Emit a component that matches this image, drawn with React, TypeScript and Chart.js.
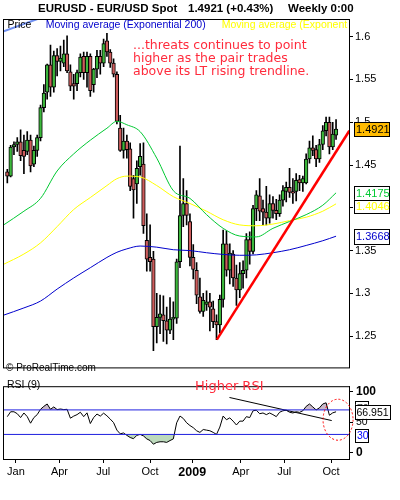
import React, { useEffect, useRef } from 'react';
import { Chart, registerables } from 'chart.js';
Chart.register(...registerables);

const SANS = '"Liberation Sans", Arial, sans-serif';
const DEJA = '"DejaVu Sans", Verdana, sans-serif';

// ---- weekly candles (index 0 = week of 21 Dec 2007) ----
const opens = [
  1.442, 1.437, 1.471, 1.474, 1.477, 1.467, 1.466, 1.479, 1.451, 1.467,
  1.482, 1.517, 1.535, 1.567, 1.541, 1.578, 1.571, 1.569, 1.580, 1.559,
  1.545, 1.545, 1.558, 1.577, 1.558, 1.577, 1.544, 1.562, 1.577, 1.569,
  1.595, 1.582, 1.569, 1.556, 1.493, 1.467, 1.478, 1.469, 1.434, 1.428,
  1.448, 1.451, 1.362, 1.342, 1.340, 1.261, 1.272, 1.275, 1.268, 1.257,
  1.270, 1.271, 1.337, 1.391, 1.405, 1.384, 1.342, 1.327, 1.296, 1.279,
  1.287, 1.290, 1.282, 1.267, 1.263, 1.293, 1.358, 1.327, 1.346, 1.318,
  1.304, 1.323, 1.327, 1.363, 1.349, 1.399, 1.414, 1.399, 1.395, 1.388,
  1.405, 1.397, 1.393, 1.409, 1.419, 1.424, 1.419, 1.419, 1.433, 1.429,
  1.429, 1.457, 1.470, 1.468, 1.457, 1.474, 1.490, 1.500, 1.471, 1.485,
];
const closes = [
  1.437, 1.471, 1.474, 1.477, 1.461, 1.460, 1.479, 1.449, 1.467, 1.482,
  1.517, 1.534, 1.567, 1.541, 1.578, 1.571, 1.575, 1.580, 1.560, 1.542,
  1.542, 1.558, 1.576, 1.558, 1.577, 1.537, 1.562, 1.577, 1.569, 1.592,
  1.582, 1.569, 1.556, 1.501, 1.467, 1.478, 1.468, 1.425, 1.421, 1.446,
  1.460, 1.379, 1.340, 1.337, 1.261, 1.272, 1.276, 1.268, 1.257, 1.270,
  1.272, 1.337, 1.391, 1.405, 1.391, 1.342, 1.328, 1.298, 1.279, 1.292,
  1.290, 1.284, 1.267, 1.263, 1.293, 1.358, 1.327, 1.347, 1.318, 1.304,
  1.323, 1.327, 1.363, 1.349, 1.399, 1.415, 1.396, 1.395, 1.388, 1.405,
  1.397, 1.393, 1.409, 1.420, 1.424, 1.418, 1.417, 1.432, 1.429, 1.434,
  1.457, 1.470, 1.467, 1.457, 1.474, 1.490, 1.500, 1.471, 1.486, 1.4921,
];
const highs = [
  1.445, 1.473, 1.477, 1.482, 1.491, 1.485, 1.489, 1.485, 1.472, 1.485,
  1.520, 1.544, 1.568, 1.590, 1.583, 1.586, 1.589, 1.596, 1.601, 1.567,
  1.556, 1.561, 1.580, 1.582, 1.582, 1.580, 1.563, 1.584, 1.584, 1.597,
  1.604, 1.585, 1.574, 1.559, 1.508, 1.493, 1.485, 1.476, 1.438, 1.455,
  1.475, 1.476, 1.393, 1.380, 1.349, 1.300, 1.298, 1.297, 1.284, 1.295,
  1.290, 1.340, 1.472, 1.434, 1.420, 1.393, 1.357, 1.336, 1.318, 1.300,
  1.303, 1.300, 1.291, 1.275, 1.298, 1.374, 1.373, 1.358, 1.350, 1.333,
  1.336, 1.338, 1.370, 1.372, 1.403, 1.420, 1.434, 1.409, 1.425, 1.415,
  1.413, 1.410, 1.415, 1.426, 1.430, 1.446, 1.434, 1.440, 1.438, 1.437,
  1.463, 1.478, 1.484, 1.473, 1.480, 1.496, 1.506, 1.506, 1.500, 1.503,
];
const lows = [
  1.429, 1.436, 1.462, 1.466, 1.455, 1.440, 1.462, 1.442, 1.448, 1.460,
  1.478, 1.512, 1.527, 1.530, 1.535, 1.554, 1.560, 1.565, 1.558, 1.537,
  1.527, 1.537, 1.553, 1.550, 1.541, 1.530, 1.535, 1.552, 1.556, 1.565,
  1.577, 1.564, 1.553, 1.498, 1.466, 1.458, 1.458, 1.420, 1.388, 1.405,
  1.438, 1.370, 1.326, 1.326, 1.233, 1.242, 1.253, 1.244, 1.241, 1.253,
  1.246, 1.265, 1.330, 1.378, 1.380, 1.332, 1.317, 1.288, 1.277, 1.273,
  1.280, 1.256, 1.260, 1.246, 1.254, 1.284, 1.320, 1.311, 1.308, 1.286,
  1.295, 1.306, 1.318, 1.334, 1.346, 1.385, 1.385, 1.380, 1.380, 1.382,
  1.388, 1.386, 1.390, 1.402, 1.407, 1.412, 1.405, 1.408, 1.420, 1.419,
  1.428, 1.452, 1.461, 1.448, 1.453, 1.468, 1.484, 1.463, 1.468, 1.480,
];

// ---- moving averages, read at these candle positions ----
const maIdx = [-1.3, 5, 10, 15, 20, 25, 30, 33, 36, 40, 45, 50, 55, 60, 65, 70, 75, 80, 85, 90, 95, 99];
const maGreen = [1.3795, 1.396, 1.411, 1.443, 1.463, 1.479, 1.493, 1.501, 1.497, 1.489, 1.458, 1.420, 1.411, 1.392, 1.376, 1.367, 1.366, 1.376, 1.384, 1.392, 1.403, 1.4175];
const maYellow = [1.3336, 1.346, 1.359, 1.378, 1.398, 1.412, 1.426, 1.434, 1.437, 1.436, 1.426, 1.413, 1.405, 1.396, 1.386, 1.380, 1.379, 1.381, 1.385, 1.389, 1.396, 1.4046];
const maBlue = [1.2743, 1.283, 1.291, 1.305, 1.318, 1.330, 1.342, 1.348, 1.352, 1.3553, 1.354, 1.351, 1.350, 1.3475, 1.3455, 1.3445, 1.345, 1.3475, 1.351, 1.356, 1.3615, 1.3668];

// ---- RSI(9), one value per candle ----
const rsi = [
  59, 67, 67, 63.8, 57.5, 65, 59, 48.3, 57.5, 62.3,
  71, 75.8, 79.7, 71, 74.9, 70.5, 71.5, 70.5, 71, 56.5,
  59.9, 62.3, 66.2, 59, 65.2, 47.8, 57.5, 63.3, 59.9, 64.7,
  60.4, 55, 49.3, 37, 31, 32.4, 28.5, 25, 23, 28.5,
  30, 27.6, 22.7, 20, 14, 17, 18, 18, 17, 20,
  22.7, 49, 60, 56, 49, 44.5, 41, 36, 33.3, 38,
  37, 36, 33.3, 30, 42, 60, 54, 57, 51.7, 45.4,
  51.7, 51.7, 59, 57.5, 68.6, 69.5, 63.8, 65, 62.3, 65,
  62.3, 59, 66.2, 68.6, 69.5, 66.2, 65, 67, 66, 68.6,
  75.8, 79.7, 74.9, 70, 73.4, 79.7, 81.6, 61.3, 65.2, 66.951,
];
const rsiLevels = [70, 30];

// ---- drawn trend lines (candle index, value) ----
const priceTrendIdx = [63.1, 103];
const priceTrendVal = [1.246, 1.49];
const topTrendIdx = [-1.3, 9.5];
const topTrendVal = [1.606, 1.6212];
const rsiTrendIdx = [66.9, 97.7];
const rsiTrendVal = [90.3, 52.6];

// ---- axes ----
const priceTicks = [1.25, 1.3, 1.35, 1.4, 1.45, 1.5, 1.55, 1.6];
const rsiTicks = [0, 50, 100];
const xTickPos = [2.6, 15.7, 28.9, 43.0, 55.7, 70.3, 83.4, 97.5];
const xTickLabels = ['Jan', 'Apr', 'Jul', 'Oct', '2009', 'Apr', 'Jul', 'Oct'];
const X_MIN = -1.3;
const X_MAX = 102.9;
const PRICE_MIN = 1.2135;
const PRICE_MAX = 1.6206;
const RSI_MIN = -10.1;
const RSI_MAX = 108.7;

const GREEN_BODY = '#3cb83c';
const RED_BODY = '#cd5c5c';

function drawBox(ctx: CanvasRenderingContext2D, x: number, top: number, w: number, h: number,
  text: string, color: string, fill: string, font: string) {
  ctx.fillStyle = fill;
  ctx.fillRect(x, top, w, h);
  ctx.strokeStyle = '#000';
  ctx.lineWidth = 1;
  ctx.strokeRect(Math.round(x) + 0.5, Math.round(top) + 0.5, w, h);
  ctx.fillStyle = color;
  ctx.font = font;
  ctx.textAlign = 'left';
  ctx.textBaseline = 'middle';
  ctx.fillText(text, x + 2, top + h / 2 + 1);
}

export default function App() {
  const mainRef = useRef<HTMLCanvasElement>(null);
  const rsiRef = useRef<HTMLCanvasElement>(null);

  useEffect(() => {
    const bodyColors = opens.map((o, i) => (closes[i] >= o ? GREEN_BODY : RED_BODY));
    const last = closes[closes.length - 1];

    const mainDecor = {
      id: 'mainDecor',
      afterDraw(chart: any) {
        const { ctx, chartArea: a, scales } = chart;
        const ys = scales.y;
        ctx.save();
        ctx.strokeStyle = '#000';
        ctx.lineWidth = 1;
        ctx.strokeRect(a.left + 0.5, a.top + 0.5, a.right - a.left, a.bottom - a.top);

        ctx.fillStyle = '#000';
        ctx.font = `bold 11.5px ${SANS}`;
        ctx.textAlign = 'left';
        ctx.textBaseline = 'middle';
        ctx.fillText('EURUSD - EUR/USD Spot', 38, 9);
        ctx.fillText(`${last.toFixed(4)} (+0.43%)`, 188, 9);
        ctx.fillText('Weekly 0:00', 288, 9);

        ctx.save();
        ctx.beginPath();
        ctx.rect(a.left + 1, a.top + 1, a.right - a.left - 2, a.bottom - a.top - 2);
        ctx.clip();
        ctx.font = `10.5px ${SANS}`;
        ctx.fillStyle = '#000';
        ctx.fillText('Price', 7.5, 25.5);
        ctx.fillStyle = '#0000cc';
        ctx.fillText('Moving average (Exponential 200)', 45.7, 25.5);
        ctx.fillStyle = '#ffff00';
        ctx.fillText('Moving average (Exponential 100)', 221.7, 25.5);
        ctx.restore();

        ctx.font = `12.5px ${DEJA}`;
        ctx.fillStyle = '#ff2b3c';
        ctx.textBaseline = 'alphabetic';
        ['...threats continues to point', 'higher as the pair trades', 'above its LT rising trendline.']
          .forEach((t, k) => ctx.fillText(t, 133, 48.5 + k * 13.4));

        ctx.font = `10px ${SANS}`;
        ctx.fillStyle = '#000';
        ctx.fillText('\u00a9 ProRealTime.com', 6, 371);

        const bf = `11px ${SANS}`;
        const h = 14;
        drawBox(ctx, 354, ys.getPixelForValue(last) - h / 2, 35, h, last.toFixed(4), '#000', '#ffbb00', bf);
        const gTop = ys.getPixelForValue(maGreen[maGreen.length - 1]) - h / 2;
        drawBox(ctx, 354, gTop, 35, h, maGreen[maGreen.length - 1].toFixed(4), '#00c832', '#fff', bf);
        const yTop = Math.max(ys.getPixelForValue(maYellow[maYellow.length - 1]) - h / 2, gTop + h);
        drawBox(ctx, 354, yTop, 35, h - 1, maYellow[maYellow.length - 1].toFixed(4), '#ffff00', '#fff', bf);
        drawBox(ctx, 354, ys.getPixelForValue(maBlue[maBlue.length - 1]) - h / 2 - 0.5, 35, h + 1, maBlue[maBlue.length - 1].toFixed(4), '#0000cc', '#fff', bf);
        ctx.restore();
      },
    };

    const main = new Chart(mainRef.current as HTMLCanvasElement, {
      type: 'bar',
      data: {
        datasets: [
          {
            type: 'line', label: 'trend', order: 0,
            data: priceTrendIdx.map((x, k) => ({ x, y: priceTrendVal[k] })),
            borderColor: '#ff0000', borderWidth: 2.5, pointRadius: 0,
          },
          {
            type: 'line', label: 'topTrend', order: 0,
            data: topTrendIdx.map((x, k) => ({ x, y: topTrendVal[k] })),
            borderColor: '#6f8fef', borderWidth: 2, pointRadius: 0,
          },
          {
            type: 'line', label: 'green', order: 1,
            data: maIdx.map((x, k) => ({ x, y: maGreen[k] })),
            borderColor: '#00c832', borderWidth: 1, pointRadius: 0, cubicInterpolationMode: 'monotone',
          },
          {
            type: 'line', label: 'yellow', order: 1,
            data: maIdx.map((x, k) => ({ x, y: maYellow[k] })),
            borderColor: '#ffff00', borderWidth: 1, pointRadius: 0, cubicInterpolationMode: 'monotone',
          },
          {
            type: 'line', label: 'blue', order: 1,
            data: maIdx.map((x, k) => ({ x, y: maBlue[k] })),
            borderColor: '#0000cc', borderWidth: 1, pointRadius: 0, cubicInterpolationMode: 'monotone',
          },
          {
            type: 'bar', label: 'bodies', order: 2,
            data: opens.map((o, i) => ({ x: i, y: [o, closes[i]] })),
            backgroundColor: bodyColors, borderColor: '#000', borderWidth: 1, borderSkipped: false,
            barThickness: 3.6, grouped: false,
          },
          {
            type: 'bar', label: 'wicks', order: 3,
            data: lows.map((l, i) => ({ x: i, y: [l, highs[i]] })),
            backgroundColor: '#000', borderWidth: 0, barThickness: 1, grouped: false,
          },
        ] as any,
      },
      options: {
        animation: false,
        responsive: false,
        maintainAspectRatio: false,
        layout: { padding: { top: 19, left: 3, right: 0, bottom: 2 } },
        plugins: { legend: { display: false }, tooltip: { enabled: false } },
        scales: {
          x: { type: 'linear', min: X_MIN, max: X_MAX, display: false, offset: false, grid: { offset: false } },
          y: {
            position: 'right', min: PRICE_MIN, max: PRICE_MAX,
            afterFit: (s: any) => { s.width = 51; },
            afterBuildTicks: (s: any) => { s.ticks = priceTicks.map((v) => ({ value: v })); },
            grid: { drawOnChartArea: false, drawTicks: true, tickLength: 4, color: '#000' },
            border: { display: true, color: '#000', width: 1 },
            ticks: { color: '#000', font: { family: SANS, size: 11 }, padding: 2, callback: (v: any) => String(v) },
          },
        },
      } as any,
      plugins: [mainDecor],
    });

    const rsiDecor = {
      id: 'rsiDecor',
      afterDraw(chart: any) {
        const { ctx, chartArea: a, scales } = chart;
        const xs = scales.x;
        const ys = scales.y;
        ctx.save();
        ctx.strokeStyle = '#000';
        ctx.lineWidth = 1;
        ctx.strokeRect(a.left + 0.5, a.top + 0.5, a.right - a.left, a.bottom - a.top);

        ctx.fillStyle = '#000';
        ctx.font = `10.5px ${SANS}`;
        ctx.textAlign = 'left';
        ctx.textBaseline = 'middle';
        ctx.fillText('RSI (9)', 7, 9);

        ctx.font = `13px ${DEJA}`;
        ctx.fillStyle = '#ff2b3c';
        ctx.textBaseline = 'alphabetic';
        ctx.fillText('Higher RSI', 195, 13.5);

        ctx.setLineDash([2, 2]);
        ctx.strokeStyle = '#ff0000';
        ctx.beginPath();
        ctx.ellipse(xs.getPixelForValue(99.6), ys.getPixelForValue(54), 15, 20.5, 0, 0, Math.PI * 2);
        ctx.stroke();
        ctx.setLineDash([]);

        const bf = `10.5px ${SANS}`;
        drawBox(ctx, 355, ys.getPixelForValue(70) - 9, 13, 14, '70', '#000', '#fff', bf);
        const rl = rsi[rsi.length - 1];
        drawBox(ctx, 354.5, ys.getPixelForValue(rl) - 7, 35, 14, rl.toFixed(3), '#000', '#fff', bf);
        drawBox(ctx, 355, ys.getPixelForValue(30) - 5.5, 13, 13, '30', '#0000ff', '#fff', bf);
        ctx.restore();
      },
    };

    const rsiPts = rsi.map((v, i) => ({ x: i, y: v }));
    const rsiChart = new Chart(rsiRef.current as HTMLCanvasElement, {
      type: 'line',
      data: {
        datasets: [
          {
            label: 'lvl70', order: 0,
            data: [{ x: X_MIN, y: rsiLevels[0] }, { x: X_MAX, y: rsiLevels[0] }],
            borderColor: '#2020e0', borderWidth: 1, pointRadius: 0,
          },
          {
            label: 'lvl30', order: 0,
            data: [{ x: X_MIN, y: rsiLevels[1] }, { x: X_MAX, y: rsiLevels[1] }],
            borderColor: '#2020e0', borderWidth: 1, pointRadius: 0,
          },
          {
            label: 'div', order: 0,
            data: rsiTrendIdx.map((x, k) => ({ x, y: rsiTrendVal[k] })),
            borderColor: '#000', borderWidth: 1, pointRadius: 0,
          },
          {
            label: 'rsi', order: 1, data: rsiPts,
            borderColor: '#000', borderWidth: 1, pointRadius: 0,
            fill: { target: { value: rsiLevels[0] }, above: '#c9b9c9', below: 'rgba(0,0,0,0)' },
          },
          {
            label: 'rsiLow', order: 2, data: rsiPts,
            borderColor: 'rgba(0,0,0,0)', borderWidth: 0, pointRadius: 0,
            fill: { target: { value: rsiLevels[1] }, above: 'rgba(0,0,0,0)', below: '#bcd9bc' },
          },
        ] as any,
      },
      options: {
        animation: false,
        responsive: false,
        maintainAspectRatio: false,
        layout: { padding: { top: 1, left: 3, right: 0, bottom: 21 } },
        plugins: { legend: { display: false }, tooltip: { enabled: false } },
        scales: {
          x: {
            type: 'linear', min: X_MIN, max: X_MAX, offset: false,
            afterBuildTicks: (s: any) => { s.ticks = xTickPos.map((v) => ({ value: v })); },
            afterFit: (s: any) => { s.height = 20; },
            grid: { drawOnChartArea: false, drawTicks: true, tickLength: 4, color: '#000' },
            border: { display: true, color: '#000' },
            ticks: {
              autoSkip: false, maxRotation: 0, color: '#000', padding: 2,
              font: (c: any) => (c.index === 4 ? { family: SANS, size: 12.5, weight: 'bold' } : { family: SANS, size: 11 }),
              callback: (_v: any, idx: number) => xTickLabels[idx],
            },
          },
          y: {
            position: 'right', min: RSI_MIN, max: RSI_MAX,
            afterFit: (s: any) => { s.width = 51; },
            afterBuildTicks: (s: any) => { s.ticks = rsiTicks.map((v) => ({ value: v })); },
            grid: { drawOnChartArea: false, drawTicks: true, tickLength: 4, color: '#000' },
            border: { display: true, color: '#000' },
            ticks: {
              color: '#000', padding: 3,
              font: (c: any) => (c.index === 1 ? { family: SANS, size: 10.5 } : { family: SANS, size: 12, weight: 'bold' }),
              callback: (v: any) => String(v),
            },
          },
        },
      } as any,
      plugins: [rsiDecor],
    });

    return () => {
      main.destroy();
      rsiChart.destroy();
    };
  }, []);

  return (
    <div style={{ position: 'absolute', left: 0, top: 0, width: 400, height: 500, background: '#fff' }}>
      <canvas ref={mainRef} width={400} height={376}
        style={{ position: 'absolute', left: 0, top: 0, width: 400, height: 376 }} />
      <canvas ref={rsiRef} width={400} height={124}
        style={{ position: 'absolute', left: 0, top: 376, width: 400, height: 124 }} />
    </div>
  );
}
